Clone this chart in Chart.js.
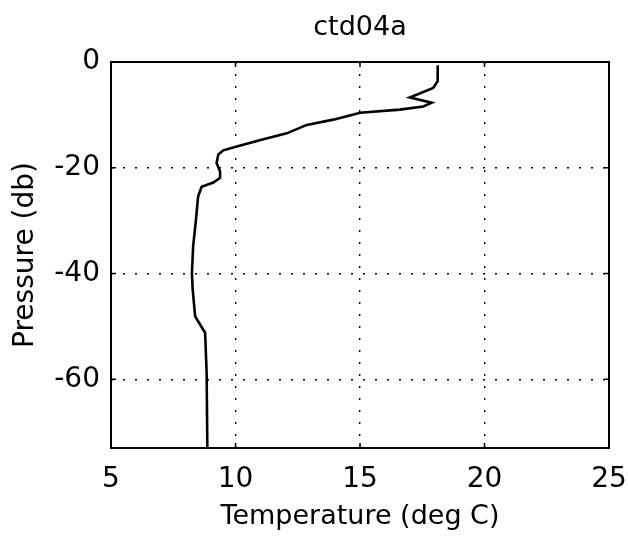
<!DOCTYPE html>
<html>
<head>
<meta charset="utf-8">
<script src="https://cdn.jsdelivr.net/npm/chart.js@4.4.1/dist/chart.umd.min.js"></script>
<style>
  html, body { margin: 0; padding: 0; background: #fff; }
  #wrap { width: 628px; height: 539px; }
</style>
</head>
<body>
<div id="wrap"><canvas id="profil" width="628" height="539"></canvas></div>
<script>
// profil CTD: suhu terhadap tekanan (tekanan negatif = makin dalam)
const stationName = 'ctd04a';
const temperature = [18.12, 18.12, 17.94, 17.0, 17.88, 17.54, 16.6, 15.0, 14.93, 13.93, 12.86, 12.06,
  11.12, 10.05, 9.51, 9.31, 9.24, 9.38, 9.38, 9.11, 8.64, 8.5, 8.4, 8.3, 8.25, 8.28, 8.38, 8.57, 8.78, 8.84, 8.87];
const pressure = [-0.6, -3.6, -4.9, -6.7, -7.7, -8.4, -9.0, -9.6, -9.7, -10.9, -11.9, -13.5,
  -14.6, -16.0, -16.7, -17.5, -19.1, -20.7, -21.9, -22.8, -23.6, -25.4, -30.4, -34.8, -39.9, -43.0, -48.1, -49.6, -51.2, -58.7, -73];
const xTicks = [5, 10, 15, 20, 25];
const yTicks = [-60, -40, -20, 0];

const font = "'DejaVu Sans', sans-serif";

// judul di tengah area plot, bukan di tengah kanvas
const judul = {
  id: 'judul',
  afterDraw(chart) {
    const { ctx, chartArea: a } = chart;
    ctx.save();
    ctx.fillStyle = '#000';
    ctx.font = '27px ' + font;
    ctx.textAlign = 'center';
    ctx.textBaseline = 'alphabetic';
    ctx.fillText(stationName, (a.left + a.right) / 2, 35);
    ctx.restore();
  }
};

// bingkai kotak penuh + tanda tick ke dalam (gaya MATLAB)
const frame = {
  id: 'frame',
  afterDraw(chart) {
    const { ctx, chartArea: a, scales } = chart;
    ctx.save();
    ctx.strokeStyle = '#000';
    ctx.lineWidth = 1.5;
    ctx.beginPath();
    xTicks.forEach(v => {
      const px = scales.x.getPixelForValue(v);
      ctx.moveTo(px, a.bottom); ctx.lineTo(px, a.bottom - 5);
      ctx.moveTo(px, a.top); ctx.lineTo(px, a.top + 5);
    });
    yTicks.forEach(v => {
      const py = scales.y.getPixelForValue(v);
      ctx.moveTo(a.left, py); ctx.lineTo(a.left + 5, py);
      ctx.moveTo(a.right, py); ctx.lineTo(a.right - 5, py);
    });
    ctx.stroke();
    ctx.lineWidth = 2;
    ctx.strokeRect(a.left, a.top, a.right - a.left, a.bottom - a.top);
    ctx.restore();
  }
};

const points = temperature.map((t, i) => ({ x: t, y: pressure[i] }));

new Chart(document.getElementById('profil'), {
  type: 'scatter',
  data: {
    datasets: [{
      data: points,
      showLine: true,
      borderColor: '#000',
      borderWidth: 2.6,
      pointRadius: 0,
      tension: 0
    }]
  },
  options: {
    responsive: false,
    animation: false,
    layout: { padding: { left: 0, right: 19, top: 62, bottom: 0 } },
    plugins: {
      legend: { display: false },
      tooltip: { enabled: false },
      title: { display: false }
    },
    scales: {
      x: {
        type: 'linear',
        min: 5,
        max: 25,
        afterBuildTicks: s => { s.ticks = xTicks.map(v => ({ value: v })); },
        afterFit: s => { s.height = 91; s.paddingLeft = 0; s.paddingRight = 0; },
        grid: {
          color: '#000',
          lineWidth: 1.4,
          drawTicks: false
        },
        border: { display: false, dash: [2, 10] },
        ticks: { color: '#000', padding: 15, maxRotation: 0, font: { family: font, size: 28 } },
        title: {
          display: true,
          text: 'Temperature (deg C)',
          color: '#000',
          font: { family: font, size: 27 },
          padding: { top: 0, bottom: 6 }
        }
      },
      y: {
        type: 'linear',
        min: -73,
        max: 0,
        afterBuildTicks: s => { s.ticks = yTicks.map(v => ({ value: v })); },
        afterFit: s => { s.width = 111; s.paddingTop = 0; s.paddingBottom = 0; },
        grid: {
          color: '#000',
          lineWidth: 1.4,
          drawTicks: false
        },
        border: { display: false, dash: [2, 10] },
        ticks: { color: '#000', padding: 11, font: { family: font, size: 28 } },
        title: {
          display: true,
          text: 'Pressure (db)',
          color: '#000',
          font: { family: font, size: 28 },
          padding: { top: 9, bottom: 0 }
        }
      }
    }
  },
  plugins: [frame, judul]
});
</script>
</body>
</html>
